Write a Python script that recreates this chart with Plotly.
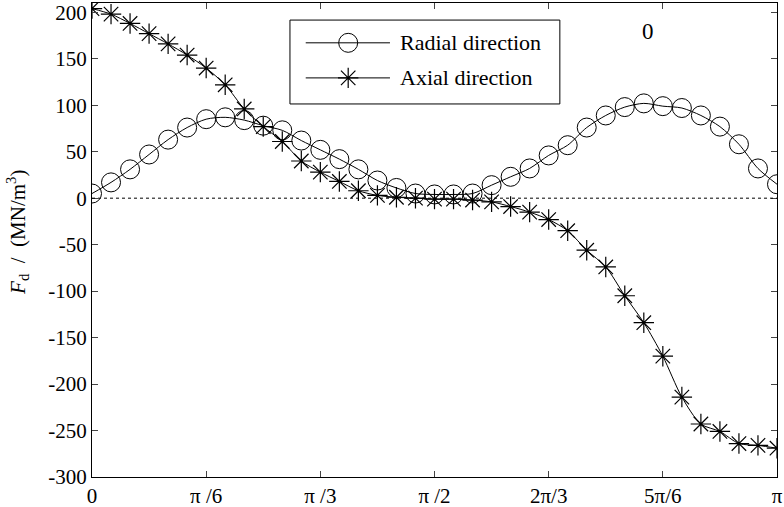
import numpy as np
import plotly.graph_objects as go

# angle in degrees, 5-degree steps from 0 to 180
angle_deg = list(range(0, 181, 5))

radial = [5, 17, 31, 47, 63, 76, 85, 87, 84, 78, 73, 62, 52, 42, 31, 19, 11, 5, 4,
          4, 5, 14, 23, 32, 46, 57, 76, 89, 98, 102, 99, 97, 89, 77, 58, 32, 15]
axial = [204, 198, 188, 177, 166, 154, 140, 122, 96, 77, 61, 40, 28, 18, 8, 3, 1, 0, -1,
         -1, -2, -4, -9, -15, -23, -35, -56, -74, -105, -134, -170, -214, -243, -251,
         -264, -266, -269]

x_tick_labels = ["0", "π /6", "π /3", "π /2", "2π/3", "5π/6", "π"]
x_tick_vals = [k * np.pi / 6 for k in range(7)]
y_tick_vals = list(range(-300, 201, 50))
y_tick_labels = [str(v) for v in y_tick_vals]

series_names = ["Radial direction", "Axial direction"]

x = [np.deg2rad(a) for a in angle_deg]

font = "Liberation Serif"
circle_marker = dict(symbol="circle-open", size=19, color="black", line=dict(width=1))
star_marker = dict(symbol="asterisk-open", size=17, color="black", line=dict(width=1.2))

fig = go.Figure()
fig.add_trace(go.Scatter(
    x=x, y=radial, name=series_names[0], mode="lines+markers",
    line=dict(color="black", width=1, shape="spline", smoothing=0.8),
    marker=circle_marker, showlegend=False,
))
fig.add_trace(go.Scatter(
    x=x, y=axial, name=series_names[1], mode="lines+markers",
    line=dict(color="black", width=1, shape="spline", smoothing=0.8),
    marker=star_marker, showlegend=False,
))

fig.add_hline(y=0, line=dict(color="black", width=1, dash="dot"))

# custom legend (box, sample lines, glyphs, labels) in paper coordinates
lx0, lx1, ly0, ly1 = 0.289, 0.683, 0.787, 0.964
row_y = [0.916, 0.842]
seg_x0, seg_x1, glyph_x, text_x = 0.312, 0.435, 0.374, 0.447
fig.add_shape(type="rect", xref="paper", yref="paper", x0=lx0, x1=lx1, y0=ly0, y1=ly1,
              line=dict(color="black", width=1), fillcolor="white", layer="below")
for yy, name, mk in zip(row_y, series_names, [circle_marker, star_marker]):
    fig.add_shape(type="line", xref="paper", yref="paper", x0=seg_x0, x1=seg_x1,
                  y0=yy, y1=yy, line=dict(color="black", width=1), layer="below")
    fig.add_annotation(text=name, xref="paper", yref="paper", x=text_x, y=yy,
                       xanchor="left", yanchor="middle", showarrow=False,
                       font=dict(size=22, family=font, color="black"))
    fig.add_trace(go.Scatter(x=[glyph_x], y=[yy], xaxis="x2", yaxis="y2",
                             mode="markers", marker=mk, showlegend=False,
                             hoverinfo="skip"))

fig.add_annotation(text="0", xref="paper", yref="paper", x=0.812, y=0.939,
                   xanchor="center", yanchor="middle",
                   showarrow=False, font=dict(size=23, family=font, color="black"))

fig.add_annotation(text="<i>F</i><sub>d</sub>  /  (MN/m<sup>3</sup>)",
                   xref="paper", yref="paper", x=-0.108, y=0.515,
                   xanchor="center", yanchor="middle", textangle=-90,
                   showarrow=False, font=dict(size=21, family=font, color="black"))

fig.update_layout(
    width=784, height=507,
    margin=dict(l=92, r=7, t=3, b=30),
    plot_bgcolor="white", paper_bgcolor="white",
    font=dict(family=font, size=21, color="black"),
    showlegend=False,
    xaxis=dict(range=[0, np.pi], tickvals=x_tick_vals, ticktext=x_tick_labels,
               ticks="inside", ticklen=6, showline=True, linecolor="black",
               linewidth=1, mirror="ticks", showgrid=False, zeroline=False,
               automargin=False, tickfont=dict(size=21, family=font, color="black")),
    yaxis=dict(range=[-300, 210], tickvals=y_tick_vals, ticktext=y_tick_labels,
               ticks="inside", ticklen=6, showline=True, linecolor="black",
               linewidth=1, mirror="ticks", showgrid=False, zeroline=False,
               automargin=False, tickfont=dict(size=21, family=font, color="black")),
    xaxis2=dict(range=[0, 1], overlaying="x", visible=False, fixedrange=True),
    yaxis2=dict(range=[0, 1], overlaying="y", visible=False, fixedrange=True),
)

fig.write_html("out.html", config={"displayModeBar": False},
               post_script="document.body.style.margin='0';document.body.style.overflow='hidden';")
